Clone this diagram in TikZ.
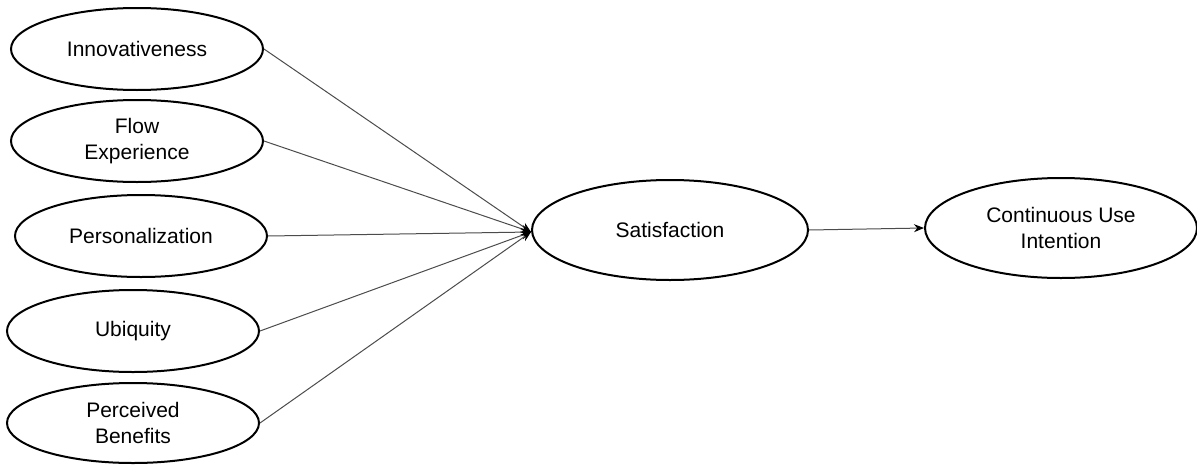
\documentclass[tikz,border=0pt]{standalone}
\usepackage{fontspec}
\setmainfont{Liberation Sans}
\usetikzlibrary{arrows.meta,shapes.geometric}
\begin{document}
\begin{tikzpicture}[x=1pt,y=-1pt,
  construct/.style={draw=black,line width=2pt,ellipse,minimum width=#1,inner sep=0pt,font=\fontsize{21}{25.5}\selectfont,align=center},
  construct/.default={252pt},
  link/.style={draw=black!70,line width=1pt,-{Stealth[length=10pt,width=8pt,color=black]}}]
\useasboundingbox (0,0) rectangle (1197,466);
\fill[white] (0,0) rectangle (1197,466);
\node[construct,minimum height=82pt] (inn) at (137,49) {Innovativeness};
\node[construct,minimum height=82pt] (flow) at (137,141) {Flow\\Experience};
\node[construct,minimum height=82pt] (pers) at (141,236) {Personalization};
\node[construct,minimum height=82pt] (ubi) at (133,331) {Ubiquity};
\node[construct,minimum height=80pt] (pb) at (133,423) {Perceived\\Benefits};
\node[construct=276pt,minimum height=100pt] (sat) at (670,230) {Satisfaction};
\node[construct=272pt,minimum height=100pt] (ciu) at (1061,228) {Continuous Use\\Intention};
\coordinate (tip) at (531,232);
\draw[link] (inn.east) -- (tip);
\draw[link] (flow.east) -- (tip);
\draw[link] (pers.east) -- (tip);
\draw[link] (ubi.east) -- (tip);
\draw[link] (pb.east) -- (tip);
\draw[link] (sat.east) -- (ciu.west);
\end{tikzpicture}
\end{document}
